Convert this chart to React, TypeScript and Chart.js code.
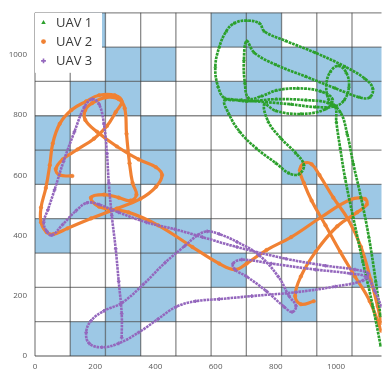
import { useEffect, useRef } from 'react';
import { Chart, registerables } from 'chart.js';

Chart.register(...registerables);

// Axis ranges and tick labels
const xTicks = [0, 200, 400, 600, 800, 1000];
const yTicks = [0, 200, 400, 600, 800, 1000];
const xMax = 1151;
const yMax = 1140;

// Coverage grid: 10 x 10 cells
const cellWidth = 117;
const cellHeight = 114;
const gridCols = 10;
const gridRows = 10;

// Covered cells as [column, row], row 0 at the bottom
const coveredCells: [number, number][] = [
  [1, 9], [5, 9], [6, 9],
  [2, 8], [3, 8], [6, 8], [7, 8], [8, 8], [9, 8],
  [1, 7], [2, 7], [5, 7], [6, 7], [8, 7], [9, 7],
  [0, 6], [3, 6],
  [0, 5], [3, 5], [7, 5],
  [1, 4], [2, 4], [8, 4], [9, 4],
  [0, 3], [3, 3], [4, 3], [7, 3],
  [3, 2], [5, 2], [9, 2],
  [2, 1], [3, 1], [7, 1],
  [1, 0], [2, 0],
];

// UAV 1 flight track
const uav1Track: [number, number][] = [
  [1148, 35], [1122, 166], [1089, 313], [1057, 460], [1030, 591], [1014, 689],
  [1001, 778], [998, 827], [975, 853], [968, 902], [981, 944], [1008, 964],
  [1034, 941], [1043, 895], [1027, 850], [998, 830], [932, 827], [851, 836],
  [769, 843], [687, 850], [631, 856], [608, 895], [599, 961], [612, 1026],
  [635, 1078], [661, 1105], [703, 1114], [746, 1105], [762, 1078], [834, 1046],
  [932, 1007], [1030, 961], [1096, 921], [1122, 889], [1112, 859], [1079, 859],
  [998, 889], [900, 928], [801, 967], [729, 1007], [703, 1046], [694, 984],
  [697, 908], [710, 856], [752, 863], [801, 882], [873, 889], [949, 879],
  [988, 853], [965, 820], [883, 804], [801, 814], [762, 836], [775, 778],
  [818, 722], [867, 673], [893, 634], [877, 604], [844, 607], [801, 640],
  [736, 689], [680, 745], [644, 804], [631, 850], [703, 846], [801, 853],
  [900, 850], [975, 840], [1014, 810], [1037, 738], [1057, 640], [1083, 526],
  [1109, 395], [1132, 248], [1148, 133],
];

// UAV 2 flight track (main leg and the eastern loop)
const uav2Track: [number, number][] = [
  [124, 598], [82, 601], [69, 621], [92, 653], [141, 686], [196, 722],
  [239, 764], [268, 810], [288, 846], [265, 866], [213, 866], [170, 846],
  [121, 817], [82, 771], [59, 706], [49, 634], [36, 558], [20, 493],
  [20, 444], [39, 411], [62, 405], [108, 424], [186, 457], [272, 490],
  [350, 522], [402, 562], [422, 601], [402, 627], [344, 653], [272, 696],
  [206, 745], [167, 784], [167, 817], [190, 840], [236, 859], [278, 853],
  [298, 823], [304, 738], [314, 640], [324, 575], [337, 536], [317, 516],
  [278, 526], [229, 536], [186, 526], [213, 496], [311, 477], [409, 434],
  [523, 362], [612, 307], [664, 287], [703, 307], [769, 352], [851, 395],
  [949, 460], [1047, 519], [1096, 522], [1102, 503], [1070, 477], [1004, 431],
  [932, 346], [883, 264], [864, 199], [883, 172], [926, 182],
];
const uav2Loop: [number, number][] = [
  [1150, 84], [1112, 182], [1063, 264], [1014, 346], [965, 434], [919, 516],
  [893, 575], [880, 617], [893, 640], [919, 637], [945, 601], [991, 526],
  [1040, 454], [1083, 362], [1115, 254], [1138, 166], [1150, 110],
];

// UAV 3 flight track
const uav3Track: [number, number][] = [
  [288, 61], [288, 140], [278, 248], [268, 356], [255, 467], [245, 575],
  [239, 673], [229, 771], [213, 836], [190, 853], [164, 827], [131, 745],
  [95, 647], [65, 552], [43, 486], [29, 444], [39, 414], [56, 401],
  [92, 437], [137, 483], [173, 509], [213, 503], [278, 477], [370, 444],
  [465, 421], [556, 395], [671, 362], [834, 323], [965, 300], [1063, 287],
  [1106, 274], [1089, 251], [998, 231], [867, 212], [720, 199], [612, 189],
  [533, 182], [468, 163], [409, 123], [344, 78], [278, 42], [222, 29],
  [180, 42], [170, 78], [186, 117], [229, 150], [288, 176], [360, 238],
  [432, 310], [497, 365], [540, 401], [572, 414], [612, 405], [671, 379],
  [743, 336], [808, 264], [844, 199], [867, 166], [854, 146], [828, 163],
  [769, 215], [703, 264], [664, 287], [658, 307], [687, 320], [785, 307],
  [932, 287], [1047, 274], [1102, 261], [1129, 215], [1150, 166],
];

type Series = {
  label: string;
  color: string;
  marker: 'triangle' | 'circle' | 'cross';
  lineWidth: number;
  dash: number[];
  order: number;
  tracks: [number, number][][];
};

const seriesList: Series[] = [
  { label: 'UAV 1', color: '#2ca02c', marker: 'triangle', lineWidth: 2.7, dash: [2.8, 0.9], order: 1, tracks: [uav1Track] },
  { label: 'UAV 2', color: '#f08133', marker: 'circle', lineWidth: 3.2, dash: [], order: 2, tracks: [uav2Track, uav2Loop] },
  { label: 'UAV 3', color: '#9467bd', marker: 'cross', lineWidth: 2.6, dash: [2.6, 0.8], order: 0, tracks: [uav3Track] },
];

const coverageGrid = {
  id: 'coverageGrid',
  beforeDatasetsDraw(chart: any) {
    const { ctx, chartArea, scales } = chart;
    const xs = scales.x;
    const ys = scales.y;
    ctx.save();
    ctx.beginPath();
    ctx.rect(chartArea.left - 1, chartArea.top - 1, chartArea.right - chartArea.left + 1, chartArea.bottom - chartArea.top + 2);
    ctx.clip();
    ctx.fillStyle = '#9dc8e5';
    for (const [c, r] of coveredCells) {
      const x0 = xs.getPixelForValue(c * cellWidth);
      const x1 = xs.getPixelForValue((c + 1) * cellWidth);
      const y0 = ys.getPixelForValue((r + 1) * cellHeight);
      const y1 = ys.getPixelForValue(r * cellHeight);
      ctx.fillRect(x0, y0, x1 - x0, y1 - y0);
    }
    ctx.strokeStyle = 'rgba(55,55,55,0.58)';
    ctx.lineWidth = 1.3;
    const top = ys.getPixelForValue(gridRows * cellHeight);
    const bottom = ys.getPixelForValue(0);
    const left = xs.getPixelForValue(0);
    const right = xs.getPixelForValue(gridCols * cellWidth);
    for (let i = 0; i <= gridCols; i++) {
      const px = xs.getPixelForValue(i * cellWidth);
      ctx.beginPath();
      ctx.moveTo(px, top);
      ctx.lineTo(px, bottom);
      ctx.stroke();
    }
    for (let j = 0; j <= gridRows; j++) {
      const py = ys.getPixelForValue(j * cellHeight);
      ctx.beginPath();
      ctx.moveTo(left, py);
      ctx.lineTo(right, py);
      ctx.stroke();
    }
    ctx.restore();
  },
};

function drawMarker(ctx: CanvasRenderingContext2D, kind: string, cx: number, cy: number, r: number) {
  ctx.beginPath();
  if (kind === 'triangle') {
    ctx.moveTo(cx, cy - r);
    ctx.lineTo(cx + r * 0.95, cy + r * 0.7);
    ctx.lineTo(cx - r * 0.95, cy + r * 0.7);
    ctx.closePath();
    ctx.fill();
  } else if (kind === 'circle') {
    ctx.arc(cx, cy, r, 0, Math.PI * 2);
    ctx.fill();
  } else {
    ctx.lineWidth = 1.6;
    ctx.moveTo(cx - r, cy);
    ctx.lineTo(cx + r, cy);
    ctx.moveTo(cx, cy - r);
    ctx.lineTo(cx, cy + r);
    ctx.stroke();
  }
}

const insetLegend = {
  id: 'insetLegend',
  afterDatasetsDraw(chart: any) {
    const { ctx, chartArea } = chart;
    const left = chartArea.left;
    const top = chartArea.top;
    ctx.save();
    ctx.fillStyle = '#ffffff';
    ctx.fillRect(left, top, 67, 60);
    ctx.font = '13px "Open Sans", sans-serif';
    ctx.textBaseline = 'alphabetic';
    seriesList.forEach((s, i) => {
      const rowY = top + 9.5 + i * 19.3;
      ctx.fillStyle = s.color;
      ctx.strokeStyle = s.color;
      drawMarker(ctx, s.marker, left + 8.5, rowY, 2.4);
      ctx.fillStyle = '#383838';
      ctx.fillText(s.label, left + 21, rowY + 4.4);
    });
    ctx.restore();
  },
};

export default function App() {
  const canvasRef = useRef<HTMLCanvasElement | null>(null);

  useEffect(() => {
    document.body.style.margin = '0';
    const canvas = canvasRef.current;
    if (!canvas) return;

    const datasets: any[] = [];
    seriesList.forEach((s) => {
      s.tracks.forEach((track) => {
        datasets.push({
          label: s.label,
          data: track.map(([x, y]) => ({ x, y })),
          showLine: true,
          tension: 0.4,
          borderColor: s.color,
          borderWidth: s.lineWidth,
          borderDash: s.dash,
          backgroundColor: s.color,
          pointStyle: s.marker,
          pointRadius: 1.8,
          pointBorderWidth: s.marker === 'cross' ? 1.5 : 0.5,
          pointBackgroundColor: s.color,
          pointBorderColor: s.color,
          fill: false,
          order: s.order,
        });
      });
    });

    const tickFont = { family: '"Open Sans", sans-serif', size: 8 };
    const plainLabel = (value: any) => String(value);

    const chart = new Chart(canvas, {
      type: 'scatter',
      data: { datasets },
      plugins: [coverageGrid, insetLegend],
      options: {
        responsive: false,
        maintainAspectRatio: false,
        animation: false,
        layout: { padding: { top: 7, right: 0, left: 0, bottom: 0 } },
        plugins: {
          legend: { display: false },
          tooltip: { enabled: false },
        },
        scales: {
          x: {
            type: 'linear',
            min: 0,
            max: xMax,
            grid: { display: false, drawTicks: false },
            border: { display: false },
            afterBuildTicks: (scale: any) => {
              scale.ticks = xTicks.map((v) => ({ value: v }));
            },
            afterFit: (scale: any) => {
              scale.height = 18;
            },
            ticks: { color: '#595959', font: tickFont, padding: 6, maxRotation: 0, callback: plainLabel },
          },
          y: {
            type: 'linear',
            min: 0,
            max: yMax,
            grid: { display: false, drawTicks: false },
            border: { display: false },
            afterBuildTicks: (scale: any) => {
              scale.ticks = yTicks.map((v) => ({ value: v }));
            },
            afterFit: (scale: any) => {
              scale.width = 35;
            },
            ticks: { color: '#595959', font: tickFont, padding: 8, callback: plainLabel },
          },
        },
      } as any,
    });

    return () => chart.destroy();
  }, []);

  return (
    <div style={{ width: 387, height: 374, background: '#ffffff' }}>
      <canvas ref={canvasRef} width={387} height={374} style={{ display: 'block' }} />
    </div>
  );
}
